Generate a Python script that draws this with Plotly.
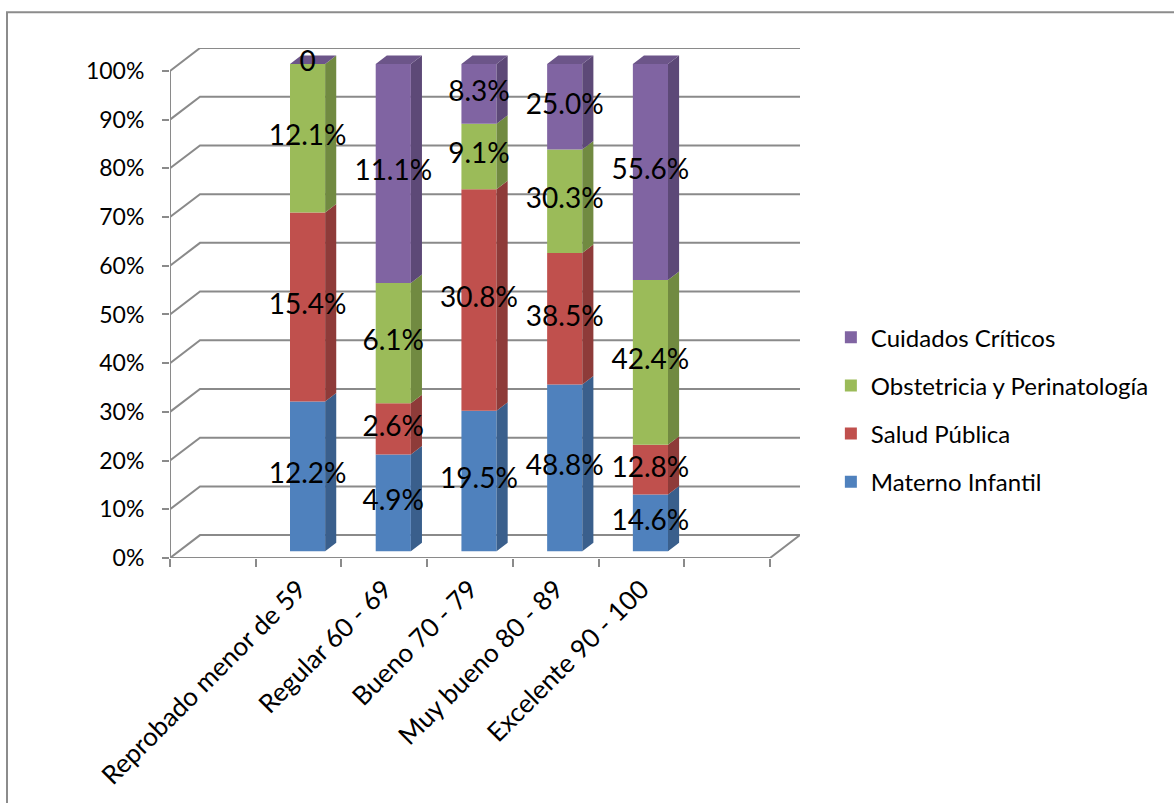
import plotly.graph_objects as go

# ---- data -------------------------------------------------------------
categories = [
    "Reprobado menor de 59",
    "Regular 60 - 69",
    "Bueno 70 - 79",
    "Muy bueno 80 - 89",
    "Excelente 90 - 100",
]
materno_infantil = [12.2, 4.9, 19.5, 48.8, 14.6]
salud_publica = [15.4, 2.6, 30.8, 38.5, 12.8]
obstetricia_perinatologia = [12.1, 6.1, 9.1, 30.3, 42.4]
cuidados_criticos = [0.0, 11.1, 8.3, 25.0, 55.6]
y_tick_values = [0, 10, 20, 30, 40, 50, 60, 70, 80, 90, 100]
y_tick_labels = ["0%", "10%", "20%", "30%", "40%", "50%", "60%", "70%", "80%", "90%", "100%"]

series = [
    ("Materno Infantil", materno_infantil, "#4F81BD", "#3A5F8C", "#426D9F"),
    ("Salud Pública", salud_publica, "#C0504D", "#8E3B39", "#A44441"),
    ("Obstetricia y Perinatología", obstetricia_perinatologia, "#9BBB59", "#718A41", "#84A04B"),
    ("Cuidados Críticos", cuidados_criticos, "#8064A2", "#5D4977", "#6C5589"),
]

# ---- pseudo-3D geometry (in axis units) -------------------------------
N_SLOTS = 7                 # one empty slot either side of the five columns
DEPTH_X, DEPTH_Y = 0.35, 4.70   # full-depth oblique offset
FRONT_D, BAR_D = 0.30, 0.37     # column front face depth and column thickness
BAR_W = 0.41
ox, oy = FRONT_D * DEPTH_X, FRONT_D * DEPTH_Y
ddx, ddy = BAR_D * DEPTH_X, BAR_D * DEPTH_Y
GRID = "#8A8A8A"
FONT = "Lato"

centers = [i + 1.5 for i in range(len(categories))]
totals = [sum(s[1][i] for s in series) for i in range(len(categories))]

fig = go.Figure()

# back wall gridlines, floor and vertical axis line
gx, gy = [], []
for v in y_tick_values:
    gx += [0, DEPTH_X, N_SLOTS + DEPTH_X, None]
    gy += [v, v + DEPTH_Y, v + DEPTH_Y, None]
gx += [0, N_SLOTS, N_SLOTS + DEPTH_X, None, 0, 0]
gy += [0, 0, DEPTH_Y, None, 0, 100]
fig.add_trace(go.Scatter(x=gx, y=gy, mode="lines", line=dict(color=GRID, width=2),
                         showlegend=False, hoverinfo="skip", xaxis="x", yaxis="y"))

# columns
base = [0.0] * len(categories)
segments = []
for rank, (name, vals, color, side, top) in enumerate(series):
    pct = [v / t * 100 for v, t in zip(vals, totals)]
    fig.add_trace(go.Bar(
        x=[c + ox for c in centers], y=pct, base=[b + oy for b in base],
        width=BAR_W, marker=dict(color=color, line=dict(width=0)),
        name=name, legendgroup=name, legendrank=len(series) - rank,
        xaxis="x2", yaxis="y2",
    ))
    segments.append((name, vals, pct, list(base), color, side, top))
    base = [b + p for b, p in zip(base, pct)]

# side faces of each segment
for name, vals, pct, b0, color, side, top in segments:
    sx, sy = [], []
    for c, b, p in zip(centers, b0, pct):
        x1 = c + ox + BAR_W / 2
        y0, y1 = b + oy, b + oy + p
        sx += [x1, x1 + ddx, x1 + ddx, x1, x1, None]
        sy += [y0, y0 + ddy, y1 + ddy, y1, y0, None]
    fig.add_trace(go.Scatter(x=sx, y=sy, mode="lines", fill="toself", fillcolor=side,
                             line=dict(width=0, color=side), showlegend=False,
                             hoverinfo="skip", xaxis="x2", yaxis="y2"))

# top faces (topmost series)
name, vals, pct, b0, color, side, top = segments[-1]
tx, ty = [], []
for c, b, p in zip(centers, b0, pct):
    x0, x1 = c + ox - BAR_W / 2, c + ox + BAR_W / 2
    yt = b + oy + p
    tx += [x0, x0 + ddx, x1 + ddx, x1, x0, None]
    ty += [yt, yt + ddy, yt + ddy, yt, yt, None]
fig.add_trace(go.Scatter(x=tx, y=ty, mode="lines", fill="toself", fillcolor=top,
                         line=dict(width=0, color=top), showlegend=False,
                         hoverinfo="skip", xaxis="x2", yaxis="y2"))

# data labels
for name, vals, pct, b0, color, side, top in segments:
    fig.add_trace(go.Scatter(
        x=[c + ox for c in centers],
        y=[b + oy + p / 2 for b, p in zip(b0, pct)],
        text=["0" if v == 0 else f"{v:.1f}%" for v in vals],
        mode="text", textposition="middle center",
        textfont=dict(family=FONT, size=28, color="black"),
        showlegend=False, hoverinfo="skip", xaxis="x2", yaxis="y2",
    ))

x_range = [0, N_SLOTS + DEPTH_X]
y_range = [0, 100 + DEPTH_Y]

fig.update_layout(
    width=1174, height=803,
    margin=dict(l=170, r=374, t=48, b=243, pad=0),
    paper_bgcolor="white", plot_bgcolor="white",
    barmode="overlay",
    font=dict(family=FONT, size=22, color="black"),
    xaxis=dict(range=x_range, tickvals=list(range(N_SLOTS + 1)),
               ticktext=[""] * (N_SLOTS + 1), ticks="outside", ticklen=8,
               tickwidth=2, tickcolor=GRID, showgrid=False, zeroline=False,
               showline=False, fixedrange=True),
    xaxis2=dict(range=x_range, overlaying="x", anchor="y", visible=False),
    xaxis3=dict(range=x_range, overlaying="x", anchor="y", side="bottom",
                tickvals=centers, ticktext=categories, tickangle=-45, ticks="",
                ticklabelstandoff=10,
                showgrid=False, zeroline=False, showline=False,
                tickfont=dict(family=FONT, size=26, color="black")),
    yaxis=dict(range=y_range, tickvals=y_tick_values, ticktext=y_tick_labels,
               ticks="outside", ticklen=7, tickwidth=2, tickcolor=GRID,
               ticklabelstandoff=13, showgrid=False, zeroline=False,
               showline=False, tickfont=dict(family=FONT, size=23, color="black")),
    yaxis2=dict(range=y_range, overlaying="y", anchor="x", visible=False),
    legend=dict(x=1.049, xanchor="left", y=0.291, yanchor="middle",
                tracegroupgap=14, bgcolor="rgba(0,0,0,0)",
                font=dict(family=FONT, size=24, color="black")),
    shapes=[dict(type="rect", xref="paper", yref="paper",
                 x0=(7 - 170) / 630, x1=(1180 - 170) / 630,
                 y0=(560 - 810) / 512, y1=(560 - 12) / 512,
                 line=dict(color="#8C8C8C", width=2), fillcolor="rgba(0,0,0,0)",
                 layer="below")],
)

# dummy trace so the category-label axis is rendered
fig.add_trace(go.Scatter(x=[None], y=[None], xaxis="x3", yaxis="y",
                         showlegend=False, hoverinfo="skip"))

fig.write_html("out.html")
